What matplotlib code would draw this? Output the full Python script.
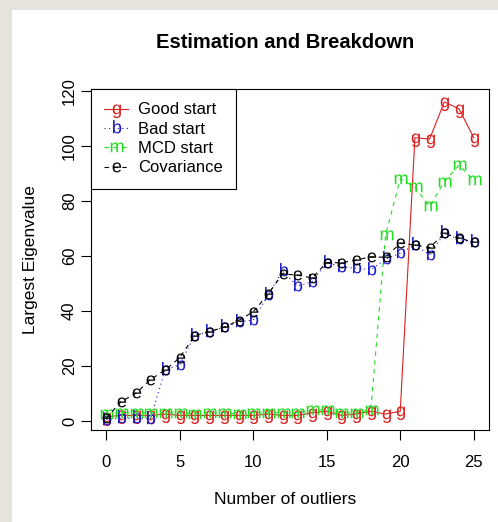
import matplotlib.pyplot as plt
import numpy as np
from matplotlib.patches import Rectangle
from matplotlib.textpath import TextPath
from matplotlib.font_manager import FontProperties
from matplotlib.path import Path

plt.rcParams['font.family'] = ['Liberation Sans', 'DejaVu Sans']

# number of outliers 0..25
outliers = np.arange(26)
good = [1.5, 2, 2, 2, 2.5, 2, 2, 2, 2, 2, 2, 2.5, 2, 2, 3, 3.5, 2, 2.5, 3.5, 2.5, 3.5,
        103, 102.5, 116, 113.5, 103]
bad = [0.5, 1, 1, 0.7, 18.5, 20.5, 31, 32.5, 34, 36, 36.7, 45.8, 54.5, 49, 50.6, 57.6,
       56, 55.5, 55, 58.8, 61, 64, 60.4, 68.2, 66, 65]
mcd = [2.5, 3, 3, 3, 3, 3, 2.5, 3, 3, 2.5, 3, 3, 3, 3, 4, 4, 3, 3, 4,
       67.5, 88, 85, 78, 87, 93, 87.5]
cov = [1, 7, 10, 15, 18.5, 23, 31, 32.5, 34, 36.5, 39.7, 46, 53.5, 53, 52, 57.6,
       57.5, 58.5, 59.7, 59.5, 64.6, 64, 63, 68.2, 66.5, 65]


def glyph(ch):
    # letter as a marker, centred like R's pch characters (on half x-height)
    tp = TextPath((0, 0), ch, size=1, prop=FontProperties(family='Liberation Sans'))
    v = tp.vertices.copy()
    v[:, 0] -= (v[:, 0].min() + v[:, 0].max()) / 2
    v[:, 1] -= 0.26
    # a lone moveto so every letter gets the same scale
    v = np.vstack([v, [0.8, 0.8]])
    codes = np.append(tp.codes, Path.MOVETO)
    return Path(v, codes)


W, H = 498, 522
fig = plt.figure(figsize=(W/100, H/100), dpi=100, facecolor='#e6e3dc')
fig.patches.append(Rectangle((12/W, 0), 1, 1 - 10/H, transform=fig.transFigure,
                             facecolor='white', edgecolor='none', zorder=-1))
ax = fig.add_axes([91/W, 1 - 430/H, (489 - 91)/W, (430 - 89)/H])

lw = 0.8
ms = 21
ax.plot(outliers, good, color='#dd2020', lw=lw, ls='-', marker=glyph('g'),
        ms=ms, mew=0, label='Good start')
ax.plot(outliers, bad, color='#1a1acc', lw=lw, ls=(0, (1, 3)), marker=glyph('b'),
        ms=ms, mew=0, label='Bad start')
ax.plot(outliers, mcd, color='#22dd22', lw=lw, ls=(0, (4, 4)), marker=glyph('m'),
        ms=ms, mew=0, label='MCD start')
ax.plot(outliers, cov, color='black', lw=lw, ls=(0, (4, 4)), marker=glyph('e'),
        ms=ms, mew=0, label='Covariance')

ax.set_xlim(-1.04, 26.04)
ax.set_ylim(-3.3, 120.7)
ax.set_xticks(np.arange(0, 26, 5))
ax.set_yticks(np.arange(0, 121, 20))
for s in ax.spines.values():
    s.set_linewidth(lw)
ax.tick_params(length=7, width=lw, labelsize=12, colors='black')
ax.tick_params(axis='x', pad=11)
ax.tick_params(axis='y', pad=3, labelrotation=90)
for lab in ax.get_yticklabels():
    lab.set_va('center')

leg = ax.legend(loc='upper left', bbox_to_anchor=(0, 1), borderaxespad=0, fancybox=False,
                edgecolor='black', framealpha=1, numpoints=1, handlelength=1.4,
                handletextpad=0.6, labelspacing=0.26, borderpad=0.8, fontsize=12)
leg.get_frame().set_linewidth(lw)

fig.text(285/W, 1 - 43/H, 'Estimation and Breakdown', ha='center', va='center',
         fontsize=14.5, fontweight='bold')
fig.text(285/W, 1 - 500/H, 'Number of outliers', ha='center', va='center', fontsize=12.5)
fig.text(30/W, 1 - 260/H, 'Largest Eigenvalue', ha='center', va='center', rotation=90,
         fontsize=12.5)

plt.savefig('out.png', dpi=100)
